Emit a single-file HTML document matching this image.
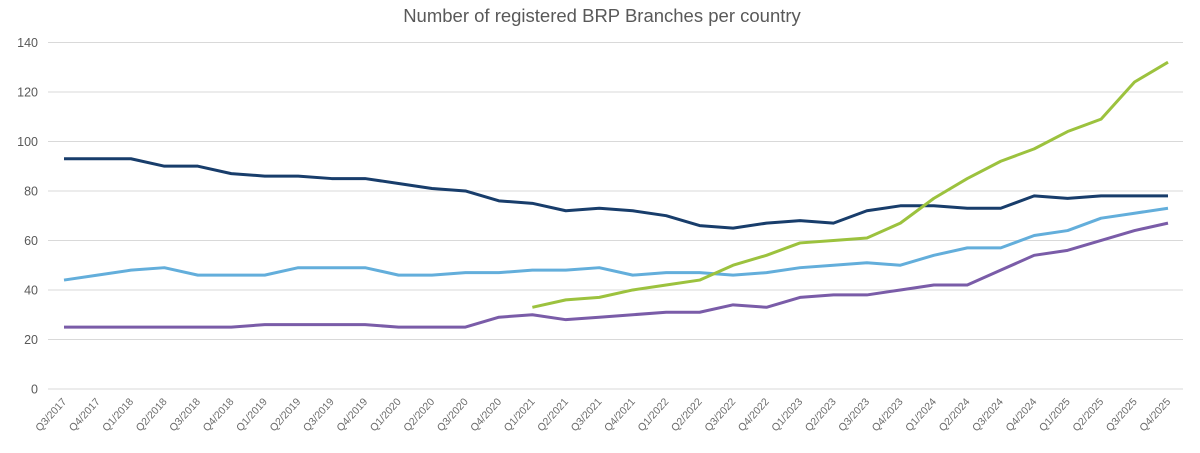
<!DOCTYPE html>
<html><head><meta charset="utf-8"><style>
html,body{margin:0;padding:0;background:#fff;}
svg{display:block;font-family:"Liberation Sans",Arial,sans-serif;}
</style></head><body>
<svg width="1200" height="453" viewBox="0 0 1200 453" xmlns="http://www.w3.org/2000/svg">
<text x="602" y="22" text-anchor="middle" font-size="18.5" fill="#595959">Number of registered BRP Branches per country</text>
<g stroke="#d9d9d9" stroke-width="1">
<line x1="48" x2="1183" y1="42.5" y2="42.5"/><line x1="48" x2="1183" y1="92" y2="92"/>
<line x1="48" x2="1183" y1="141.5" y2="141.5"/><line x1="48" x2="1183" y1="191" y2="191"/>
<line x1="48" x2="1183" y1="240.5" y2="240.5"/><line x1="48" x2="1183" y1="290" y2="290"/>
<line x1="48" x2="1183" y1="339.5" y2="339.5"/><line x1="48" x2="1183" y1="389" y2="389"/>
</g>
<g font-size="12.5" fill="#595959" text-anchor="end">
<text x="38" y="47">140</text><text x="38" y="96.5">120</text><text x="38" y="146">100</text>
<text x="38" y="195.5">80</text><text x="38" y="245">60</text><text x="38" y="294.5">40</text>
<text x="38" y="344">20</text><text x="38" y="393.5">0</text>
</g>
<g transform="translate(64,389) scale(33.4545,-2.4757)" fill="none" stroke-width="3" stroke-linejoin="round">
<polyline vector-effect="non-scaling-stroke" stroke="#183d6b" points="0,93 1,93 2,93 3,90 4,90 5,87 6,86 7,86 8,85 9,85 10,83 11,81 12,80 13,76 14,75 15,72 16,73 17,72 18,70 19,66 20,65 21,67 22,68 23,67 24,72 25,74 26,74 27,73 28,73 29,78 30,77 31,78 32,78 33,78"/>
<polyline vector-effect="non-scaling-stroke" stroke="#63aedb" points="0,44 1,46 2,48 3,49 4,46 5,46 6,46 7,49 8,49 9,49 10,46 11,46 12,47 13,47 14,48 15,48 16,49 17,46 18,47 19,47 20,46 21,47 22,49 23,50 24,51 25,50 26,54 27,57 28,57 29,62 30,64 31,69 32,71 33,73"/>
<polyline vector-effect="non-scaling-stroke" stroke="#7a5ca8" points="0,25 1,25 2,25 3,25 4,25 5,25 6,26 7,26 8,26 9,26 10,25 11,25 12,25 13,29 14,30 15,28 16,29 17,30 18,31 19,31 20,34 21,33 22,37 23,38 24,38 25,40 26,42 27,42 28,48 29,54 30,56 31,60 32,64 33,67"/>
<polyline vector-effect="non-scaling-stroke" stroke="#9cc23e" points="14,33 15,36 16,37 17,40 18,42 19,44 20,50 21,54 22,59 23,60 24,61 25,67 26,77 27,85 28,92 29,97 30,104 31,109 32,124 33,132"/>
</g>
<g font-size="10.5" fill="#6b6b6b" text-anchor="end">
<text transform="translate(67,402) rotate(-48)">Q3/2017</text>
<text transform="translate(100.5,402) rotate(-48)">Q4/2017</text>
<text transform="translate(133.9,402) rotate(-48)">Q1/2018</text>
<text transform="translate(167.4,402) rotate(-48)">Q2/2018</text>
<text transform="translate(200.8,402) rotate(-48)">Q3/2018</text>
<text transform="translate(234.3,402) rotate(-48)">Q4/2018</text>
<text transform="translate(267.7,402) rotate(-48)">Q1/2019</text>
<text transform="translate(301.2,402) rotate(-48)">Q2/2019</text>
<text transform="translate(334.6,402) rotate(-48)">Q3/2019</text>
<text transform="translate(368.1,402) rotate(-48)">Q4/2019</text>
<text transform="translate(401.5,402) rotate(-48)">Q1/2020</text>
<text transform="translate(435,402) rotate(-48)">Q2/2020</text>
<text transform="translate(468.5,402) rotate(-48)">Q3/2020</text>
<text transform="translate(501.9,402) rotate(-48)">Q4/2020</text>
<text transform="translate(535.4,402) rotate(-48)">Q1/2021</text>
<text transform="translate(568.8,402) rotate(-48)">Q2/2021</text>
<text transform="translate(602.3,402) rotate(-48)">Q3/2021</text>
<text transform="translate(635.7,402) rotate(-48)">Q4/2021</text>
<text transform="translate(669.2,402) rotate(-48)">Q1/2022</text>
<text transform="translate(702.6,402) rotate(-48)">Q2/2022</text>
<text transform="translate(736.1,402) rotate(-48)">Q3/2022</text>
<text transform="translate(769.5,402) rotate(-48)">Q4/2022</text>
<text transform="translate(803,402) rotate(-48)">Q1/2023</text>
<text transform="translate(836.5,402) rotate(-48)">Q2/2023</text>
<text transform="translate(869.9,402) rotate(-48)">Q3/2023</text>
<text transform="translate(903.4,402) rotate(-48)">Q4/2023</text>
<text transform="translate(936.8,402) rotate(-48)">Q1/2024</text>
<text transform="translate(970.3,402) rotate(-48)">Q2/2024</text>
<text transform="translate(1003.7,402) rotate(-48)">Q3/2024</text>
<text transform="translate(1037.2,402) rotate(-48)">Q4/2024</text>
<text transform="translate(1070.6,402) rotate(-48)">Q1/2025</text>
<text transform="translate(1104.1,402) rotate(-48)">Q2/2025</text>
<text transform="translate(1137.5,402) rotate(-48)">Q3/2025</text>
<text transform="translate(1171,402) rotate(-48)">Q4/2025</text>
</g>
</svg>
</body></html>
